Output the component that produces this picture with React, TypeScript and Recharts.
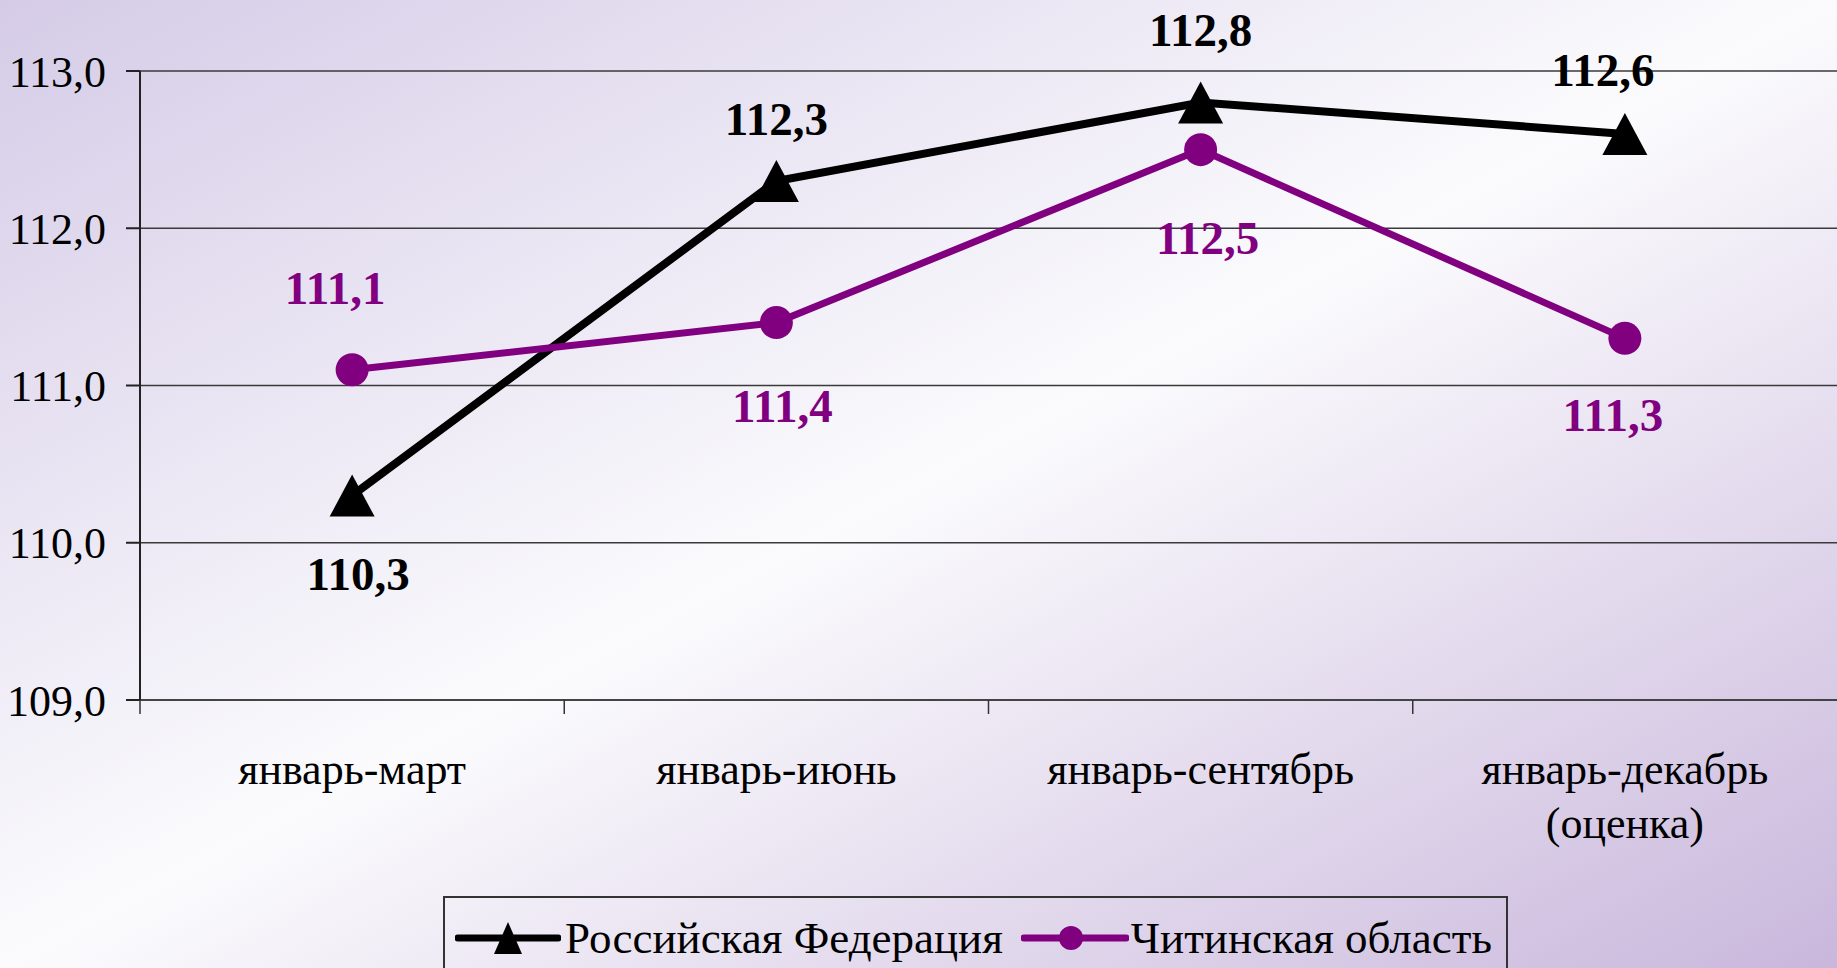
import React from 'react';
import { LineChart, Line, XAxis, YAxis, CartesianGrid, LabelList } from 'recharts';

// данные: индексы за периоды
const periods = ['январь-март', 'январь-июнь', 'январь-сентябрь', 'январь-декабрь\n(оценка)'];
const russia = [110.3, 112.3, 112.8, 112.6];
const chita = [111.1, 111.4, 112.5, 111.3];
const yTicks = [109, 110, 111, 112, 113];
const seriesNames = ['Российская Федерация', 'Читинская область'];

const data = periods.map((p, i) => ({ period: p, rf: russia[i], chita: chita[i] }));

const W = 1837;
const H = 968;
const FONT = '"Liberation Serif", "Times New Roman", serif';
const PURPLE = '#800080';

// смещения подписей значений относительно точки
const rfLabelOffsets = [[6, 78], [0, -63], [0, -73], [-22, -64]];
const chitaLabelOffsets = [[-17, -82], [6, 83], [7, 88], [-12, 76]];

const fmt = (v: number) => v.toFixed(1).replace('.', ',');

const makeLabel = (color: string, offsets: number[][]) => (props: any) => {
  const { x, y, value, index } = props;
  const [dx, dy] = offsets[index] || [0, 0];
  return (
    <text
      x={x + dx}
      y={y + dy}
      dy="0.35em"
      textAnchor="middle"
      fill={color}
      fontFamily={FONT}
      fontWeight="bold"
      fontSize={47}
    >
      {fmt(value)}
    </text>
  );
};

const TriangleDot = (props: any) => {
  const { cx, cy } = props;
  if (cx == null || cy == null) return null;
  return (
    <polygon
      key={`tri-${props.index}`}
      points={`${cx},${cy - 21} ${cx - 22.5},${cy + 21} ${cx + 22.5},${cy + 21}`}
      fill="#000000"
    />
  );
};

const CircleDot = (props: any) => {
  const { cx, cy } = props;
  if (cx == null || cy == null) return null;
  return <circle key={`dot-${props.index}`} cx={cx} cy={cy} r={16.5} fill={PURPLE} />;
};

// подпись категории + засечка на границе категорий
const PeriodTick = (props: any) => {
  const { x, y, payload, width, visibleTicksCount } = props;
  const half = width / (visibleTicksCount || 1) / 2;
  const lines = String(payload.value).split('\n');
  return (
    <g>
      <line x1={x - half} y1={y} x2={x - half} y2={y + 14} stroke="#333" strokeWidth={1.5} />
      <text x={x} y={y} textAnchor="middle" fill="#000" fontFamily={FONT} fontSize={44}>
        {lines.map((l, i) => (
          <tspan key={i} x={x} dy={i === 0 ? 84 : 54}>
            {l}
          </tspan>
        ))}
      </text>
    </g>
  );
};

const LegendBox = () => (
  <div
    style={{
      position: 'absolute',
      left: 443,
      top: 896,
      width: 1065,
      height: 100,
      border: '2px solid #333',
      boxSizing: 'border-box',
      fontFamily: FONT,
      fontSize: 45,
      color: '#000',
    }}
  >
    <div style={{ display: 'flex', alignItems: 'center', height: 80, paddingLeft: 10 }}>
      <svg width={106} height={40}>
        <line x1={3} y1={20} x2={103} y2={20} stroke="#000" strokeWidth={7} strokeLinecap="round" />
        <polygon points="53,4 39,36 67,36" fill="#000" />
      </svg>
      <span style={{ marginLeft: 4, whiteSpace: 'nowrap' }}>{seriesNames[0]}</span>
      <svg width={108} height={40} style={{ marginLeft: 18 }}>
        <line x1={3} y1={20} x2={105} y2={20} stroke={PURPLE} strokeWidth={7} strokeLinecap="round" />
        <circle cx={50} cy={20} r={12} fill={PURPLE} />
      </svg>
      <span style={{ marginLeft: 2, whiteSpace: 'nowrap' }}>{seriesNames[1]}</span>
    </div>
  </div>
);

export default function App() {
  return (
    <div
      style={{
        position: 'absolute',
        left: 0,
        top: 0,
        width: W,
        height: H,
        overflow: 'hidden',
        background: 'linear-gradient(to bottom right, #d5cbe7 0%, #fbfbfd 50%, #c9b7dc 100%)',
      }}
    >
      <LineChart width={W} height={H} data={data} margin={{ top: 71, right: 0, bottom: 108, left: 0 }}>
        <CartesianGrid vertical={false} stroke="#3a3a3a" strokeWidth={1.5} />
        <XAxis
          dataKey="period"
          scale="band"
          tick={<PeriodTick />}
          tickLine={false}
          tickSize={0}
          tickMargin={0}
          axisLine={{ stroke: '#444', strokeWidth: 2 }}
          height={160}
          interval={0}
        />
        <YAxis
          width={140}
          domain={[109, 113]}
          ticks={yTicks}
          tickFormatter={fmt}
          tickSize={14}
          tickMargin={20}
          axisLine={{ stroke: '#222', strokeWidth: 2 }}
          tickLine={{ stroke: '#222', strokeWidth: 2 }}
          tick={{ fill: '#000', fontFamily: FONT, fontSize: 44 }}
        />
        <Line
          dataKey="rf"
          name={seriesNames[0]}
          stroke="#000000"
          strokeWidth={8}
          dot={<TriangleDot />}
          activeDot={false}
          isAnimationActive={false}
        >
          <LabelList dataKey="rf" content={makeLabel('#000000', rfLabelOffsets)} />
        </Line>
        <Line
          dataKey="chita"
          name={seriesNames[1]}
          stroke={PURPLE}
          strokeWidth={7}
          dot={<CircleDot />}
          activeDot={false}
          isAnimationActive={false}
        >
          <LabelList dataKey="chita" content={makeLabel(PURPLE, chitaLabelOffsets)} />
        </Line>
      </LineChart>
      <LegendBox />
    </div>
  );
}
